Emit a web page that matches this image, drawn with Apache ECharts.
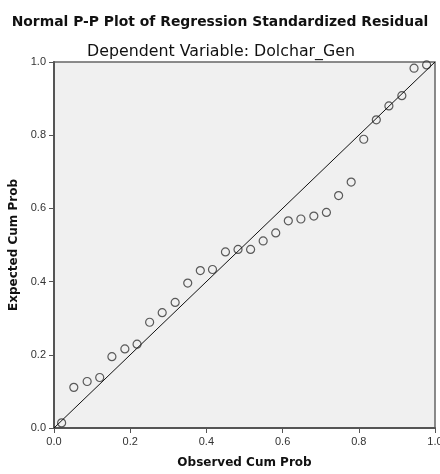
<!DOCTYPE html>
<html><head><meta charset="utf-8">
<script src="https://cdn.jsdelivr.net/npm/echarts@6/dist/echarts.min.js"></script>
<style>html,body{margin:0;padding:0;background:#fff;}#c{width:440px;height:474px;}</style>
</head><body><div id="c"></div>
<script>
const titleText = "Normal P-P Plot of Regression Standardized Residual";
const subtitleText = "Dependent Variable: Dolchar_Gen";
const xAxisName = "Observed Cum Prob";
const yAxisName = "Expected Cum Prob";
const observedCumProb = [0.020,0.052,0.087,0.120,0.152,0.186,0.218,0.251,0.284,0.318,0.351,0.384,0.416,0.450,0.483,0.516,0.549,0.582,0.615,0.648,0.682,0.715,0.747,0.780,0.813,0.846,0.879,0.913,0.945,0.978];
const expectedCumProb = [0.014,0.111,0.127,0.138,0.195,0.216,0.229,0.289,0.315,0.343,0.396,0.430,0.433,0.481,0.488,0.488,0.511,0.533,0.566,0.571,0.579,0.589,0.635,0.672,0.789,0.842,0.880,0.908,0.983,0.992];
const refLineX = [0, 1];
const refLineY = [0, 1];

const points = observedCumProb.map((x, i) => [x, expectedCumProb[i]]);
const refLine = refLineX.map((x, i) => [x, refLineY[i]]);

const chart = echarts.init(document.getElementById('c'), null, {renderer: 'canvas'});
const axisCommon = {
  type: 'value', min: 0, max: 1, interval: 0.2,
  axisLine: {show: true, onZero: false, lineStyle: {color: '#555', width: 2}},
  axisTick: {show: true, length: 5, lineStyle: {color: '#555', width: 1}},
  axisLabel: {color: '#333', fontSize: 11, fontFamily: 'Liberation Sans, Arial, sans-serif', formatter: v => v.toFixed(1)},
  splitLine: {show: false},
  nameLocation: 'middle',
  nameTextStyle: {color: '#111', fontSize: 12, fontWeight: 'bold', fontFamily: 'DejaVu Sans, sans-serif'}
};
chart.setOption({
  animation: false,
  backgroundColor: '#fff',
  title: [
    {text: titleText, left: 215, textAlign: 'center', top: 10, textStyle: {fontSize: 13.9, fontWeight: 'bold', color: '#111', fontFamily: 'DejaVu Sans, sans-serif'}},
    {text: subtitleText, left: 216, textAlign: 'center', top: 39, textStyle: {fontSize: 15.8, fontWeight: 'normal', color: '#111', fontFamily: 'DejaVu Sans, sans-serif'}}
  ],
  grid: {left: 54, right: 5, top: 62, bottom: 46, containLabel: false, outerBoundsMode: 'none', show: true, backgroundColor: '#f0f0f0', borderColor: '#666', borderWidth: 1.5},
  xAxis: Object.assign({}, axisCommon, {name: xAxisName, nameGap: 29}),
  yAxis: Object.assign({}, axisCommon, {name: yAxisName, nameGap: 33}),
  series: [
    {type: 'line', data: refLine, symbol: 'none', lineStyle: {color: '#111', width: 1}, silent: true},
    {type: 'scatter', data: points, symbol: 'circle', symbolSize: 8,
     itemStyle: {color: 'rgba(0,0,0,0)', borderColor: '#333', borderWidth: 1.2}}
  ]
});
</script></body></html>
